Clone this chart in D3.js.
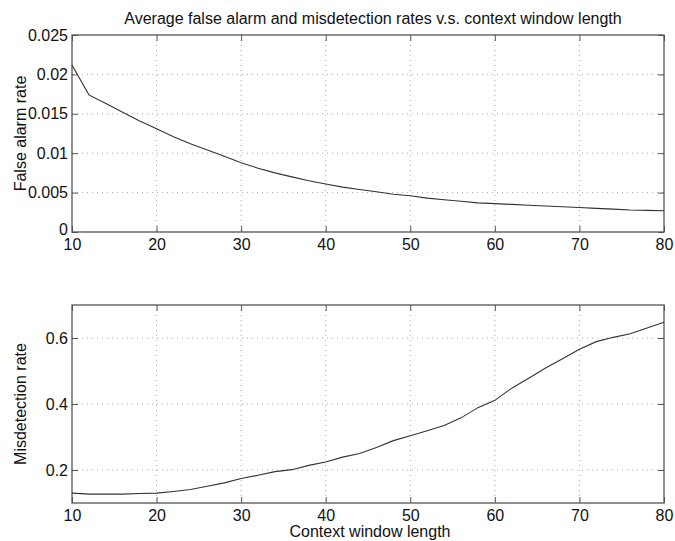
<!DOCTYPE html>
<html>
<head>
<meta charset="utf-8">
<script src="https://cdn.jsdelivr.net/npm/d3@7"></script>
<style>
  body { margin: 0; background: #fff; }
  svg { display: block; }
  text { font-family: "Liberation Sans", Arial, sans-serif; fill: #111; }
</style>
</head>
<body>
<svg id="chart" width="675" height="541"></svg>
<script>
const windowLengths = [10,12,14,16,18,20,22,24,26,28,30,32,34,36,38,40,42,44,46,48,50,52,54,56,58,60,62,64,66,68,70,72,74,76,78,80];
const falseAlarmRate = [0.0212,0.0174,0.0163,0.0152,0.0141,0.0131,0.0121,0.0112,0.0104,0.0096,0.0088,0.0081,0.0075,0.0070,0.0065,0.0061,0.0057,0.0054,0.0051,0.0048,0.0046,0.0043,0.0041,0.0039,0.0037,0.0036,0.0035,0.0034,0.0033,0.0032,0.0031,0.0030,0.0029,0.0028,0.00275,0.0027];
const misdetectionRate = [0.130,0.127,0.127,0.127,0.129,0.130,0.135,0.141,0.151,0.161,0.174,0.184,0.195,0.201,0.214,0.224,0.239,0.250,0.268,0.289,0.304,0.319,0.335,0.358,0.389,0.411,0.448,0.478,0.509,0.537,0.566,0.589,0.602,0.613,0.630,0.648];
const xTicks = [10,20,30,40,50,60,70,80];
const faTicks = [0,0.005,0.01,0.015,0.02,0.025];
const mdTicks = [0.2,0.4,0.6];
const titleText = "Average false alarm and misdetection rates v.s. context window length";
const xLabelText = "Context window length";
const faLabelText = "False alarm rate";
const mdLabelText = "Misdetection rate";

const svg = d3.select("#chart");
const left = 72, right = 664;
const fontSize = 16;
const axisColor = "#555";
const gridColor = "#aaa";
const tickLen = 6;

const x = d3.scaleLinear().domain([10, 80]).range([left, right]);

function panel(top, bottom, yDomain, yTicks, yFmt, values, yLabel) {
  const y = d3.scaleLinear().domain(yDomain).range([bottom, top]);
  const g = svg.append("g");
  // grid
  g.selectAll(".gx").data(xTicks.filter(t => t > 10 && t < 80)).enter().append("line")
    .attr("x1", d => x(d)).attr("x2", d => x(d)).attr("y1", top).attr("y2", bottom)
    .attr("stroke", gridColor).attr("stroke-width", 1).attr("stroke-dasharray", "1,4");
  g.selectAll(".gy").data(yTicks.filter(t => t > yDomain[0] && t < yDomain[1])).enter().append("line")
    .attr("x1", left).attr("x2", right).attr("y1", d => y(d)).attr("y2", d => y(d))
    .attr("stroke", gridColor).attr("stroke-width", 1).attr("stroke-dasharray", "1,4");
  // axes (inward ticks)
  const ax = g.append("g").attr("transform", `translate(0,${bottom})`)
    .call(d3.axisBottom(x).tickValues(xTicks).tickSizeInner(-tickLen).tickSizeOuter(0).tickPadding(7).tickFormat(d3.format("d")));
  const axTop = g.append("g").attr("transform", `translate(0,${top})`)
    .call(d3.axisTop(x).tickValues(xTicks).tickSizeInner(-tickLen).tickSizeOuter(0).tickFormat(""));
  const ay = g.append("g").attr("transform", `translate(${left},0)`)
    .call(d3.axisLeft(y).tickValues(yTicks).tickSizeInner(-tickLen).tickSizeOuter(0).tickPadding(4).tickFormat(yFmt));
  const ayR = g.append("g").attr("transform", `translate(${right},0)`)
    .call(d3.axisRight(y).tickValues(yTicks).tickSizeInner(-tickLen).tickSizeOuter(0).tickFormat(""));
  [ax, axTop, ay, ayR].forEach(a => {
    a.select(".domain").remove();
    a.selectAll(".tick line").attr("stroke", axisColor);
    a.selectAll("text").attr("font-size", fontSize).attr("font-family", "Liberation Sans, Arial, sans-serif").attr("fill", "#111");
  });
  // keep the bottom-most y label clear of the first x label
  ay.selectAll(".tick").filter(d => d === yDomain[0]).select("text").attr("y", -3);
  // box
  g.append("rect").attr("x", left).attr("y", top).attr("width", right - left).attr("height", bottom - top)
    .attr("fill", "none").attr("stroke", axisColor).attr("stroke-width", 1.3);
  // line
  const line = d3.line().x((d, i) => x(windowLengths[i])).y(d => y(d));
  g.append("path").datum(values).attr("d", line).attr("fill", "none").attr("stroke", "#333").attr("stroke-width", 1.1);
  // y label
  g.append("text").attr("transform", `translate(26,${(top + bottom) / 2}) rotate(-90)`)
    .attr("text-anchor", "middle").attr("font-size", fontSize).text(yLabel);
  return y;
}

panel(35, 232, [0, 0.025], faTicks, d => d === 0 ? "0" : String(+d.toFixed(3)), falseAlarmRate, faLabelText);
panel(305, 503, [0.1, 0.7], mdTicks, d => String(+d.toFixed(1)), misdetectionRate, mdLabelText);

svg.append("text").attr("x", 373).attr("y", 24).attr("text-anchor", "middle").attr("font-size", fontSize).text(titleText);
svg.append("text").attr("x", 370).attr("y", 537).attr("text-anchor", "middle").attr("font-size", fontSize).text(xLabelText);
</script>
</body>
</html>
